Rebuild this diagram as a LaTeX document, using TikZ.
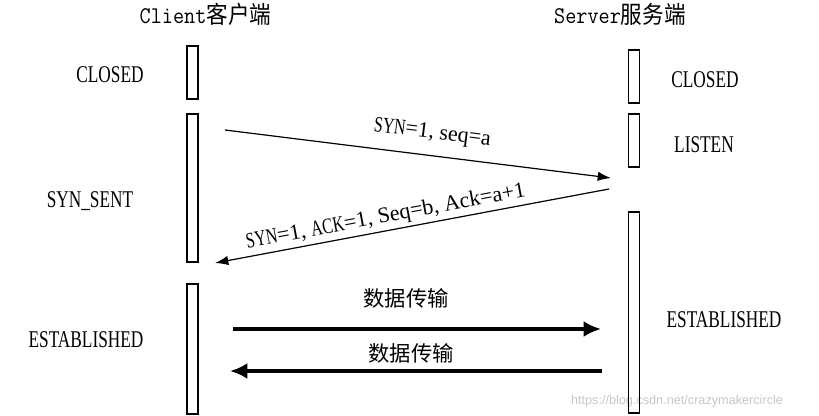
\documentclass[tikz,border=0pt]{standalone}
\usepackage{graphicx}
\usepackage{fontspec}
\newfontfamily\statefont[FakeStretch=0.72]{Liberation Serif}
\newfontfamily\msgfont{Liberation Serif}
\newfontfamily\cjkfont{Noto Sans CJK SC}
\newfontfamily\markfont{Liberation Sans}
\usetikzlibrary{arrows.meta,positioning}

\begin{document}
\begin{tikzpicture}[x=0.75pt, y=-0.75pt,
  bar/.style={draw, line width=1.1pt, inner sep=0, minimum width=8.5pt},
  state/.style={font=\statefont\fontsize{18}{20}\selectfont, anchor=base, inner sep=0},
  head/.style={font=\ttfamily\fontsize{18}{20}\selectfont, anchor=base, inner sep=0},
  msg/.style={-{Latex[length=10pt,width=7pt]}, line width=0.9pt},
  data/.style={-{Latex[length=13pt,width=12pt]}, line width=2.6pt},
  datalabel/.style={font=\cjkfont\fontsize{16}{18}\selectfont, inner sep=0},
  msglabel/.style={font=\msgfont\fontsize{16.5}{18}\selectfont, sloped, inner sep=0}]
\useasboundingbox (0,0) rectangle (819,415);
\node[font=\markfont\fontsize{9.5}{11}\selectfont, text=black!22, inner sep=0] (mark) at (677,401) {https://blog.csdn.net/crazymakercircle};
\node[head] (client) at (205.5,23) {\scalebox{0.9}[1]{Client{\cjkfont 客户端}}};
\node[head] (server) at (620,23) {\scalebox{0.9}[1]{Server{\cjkfont 服务端}}};
\node[bar, minimum height=39.75pt] (c1) at (192.5,72.5) {};
\node[bar, minimum height=111pt] (c2) at (192.5,188) {};
\node[bar, minimum height=97.5pt] (c3) at (192.5,349) {};
\node[bar, minimum height=39.75pt] (s1) at (634,76.5) {};
\node[bar, minimum height=39.75pt] (s2) at (634,140.5) {};
\node[bar, minimum height=150.75pt] (s3) at (634,312.5) {};
\node[state] (cclosed) at (110,82) {CLOSED};
\node[state] (csent) at (90,207) {SYN\_SENT};
\node[state] (cest) at (86,347) {ESTABLISHED};
\node[state] (sclosed) at (705,87) {CLOSED};
\node[state] (slisten) at (704,152) {LISTEN};
\node[state] (sest) at (724,327) {ESTABLISHED};
\coordinate (synA) at (225,130);
\coordinate (synB) at (611,178);
\coordinate (ackA) at (609,189);
\coordinate (ackB) at (215,263);
\coordinate (d1A) at (233,329);
\coordinate (d1B) at (601,329);
\coordinate (d2A) at (602,371);
\coordinate (d2B) at (230,371);
\draw[msg] (synA) -- node[msglabel, above=9pt, pos=0.53] {{\statefont SYN}=1, seq=a} (synB);
\draw[msg] (ackA) -- node[msglabel, above=2.3pt, pos=0.56] {{\statefont SYN}=1, {\statefont ACK}=1, Seq=b, Ack=a+1} (ackB);
\draw[data] (d1A) -- (d1B);
\draw[data] (d2A) -- (d2B);
\node[datalabel] (send) at (406,298) {数据传输};
\node[datalabel] (recv) at (411,353) {数据传输};
\end{tikzpicture}
\end{document}
